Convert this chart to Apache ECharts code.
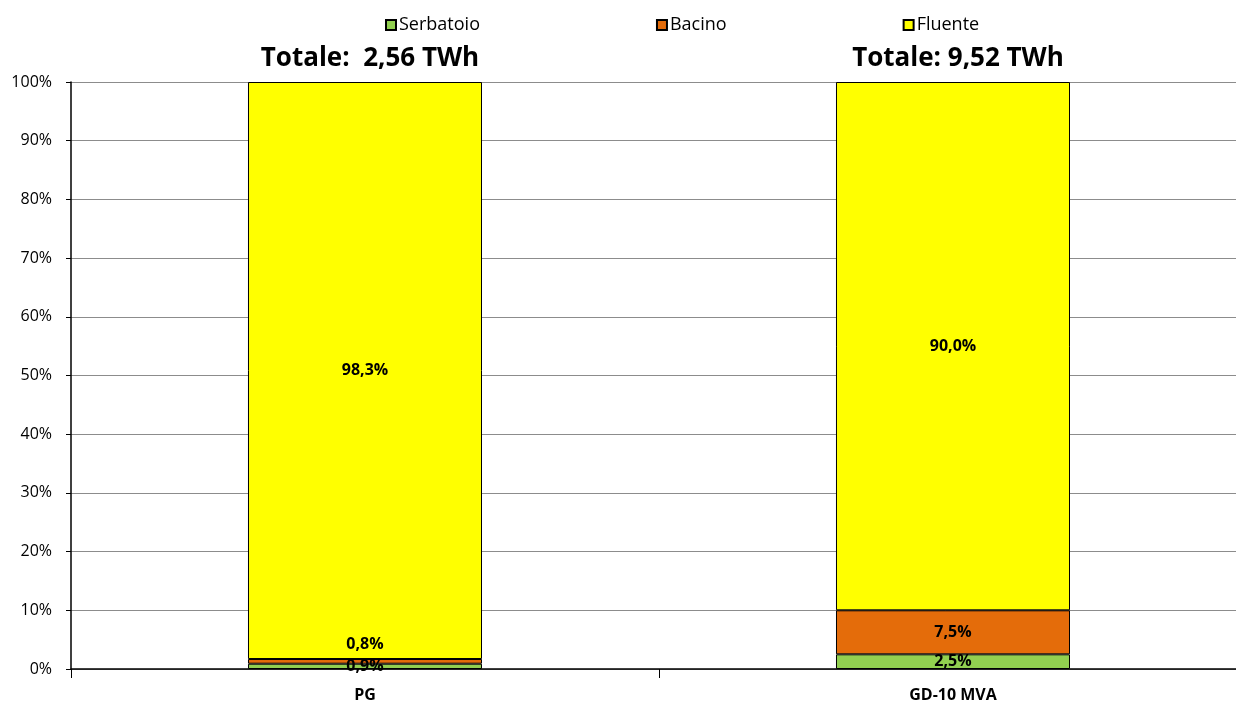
<!DOCTYPE html>
<html>
<head>
<meta charset="utf-8">
<script src="https://cdn.jsdelivr.net/npm/echarts@6/dist/echarts.min.js"></script>
<style>
html, body { margin: 0; padding: 0; background: #fff; }
#main { width: 1236px; height: 705px; }
</style>
</head>
<body>
<div id="main"></div>
<script>
// dati
var categorie = ['PG', 'GD-10 MVA'];
var totali = ['2,56', '9,52'];          // TWh
var serbatoio = [0.9, 2.5];
var bacino = [0.8, 7.5];
var fluente = [98.3, 90.0];
var tickY = [0, 10, 20, 30, 40, 50, 60, 70, 80, 90, 100];

var font = '"Open Sans", Lato, sans-serif';

function etichetta(p) {
	return p.value.toFixed(1).replace('.', ',') + '%';
}

var labelBase = {
	show : true,
	position : 'inside',
	color : '#000',
	fontFamily : font,
	fontWeight : 'bold',
	fontSize : 16,
	formatter : etichetta
};

var chart = echarts.init(document.getElementById('main'));

option = {
	backgroundColor : '#fff',
	animation : false,
	title : [ {
		text : 'Totale:  ' + totali[0] + ' TWh',
		left : 365,
		top : 41,
		textAlign : 'center',
		textStyle : { fontFamily : font, fontWeight : 'bold', fontSize : 26, color : '#000' }
	}, {
		text : 'Totale: ' + totali[1] + ' TWh',
		left : 953,
		top : 41,
		textAlign : 'center',
		textStyle : { fontFamily : font, fontWeight : 'bold', fontSize : 26, color : '#000' }
	} ],
	legend : {
		top : 11,
		left : 380,
		itemWidth : 10,
		itemHeight : 10,
		itemGap : 176,
		icon : 'rect',
		textStyle : { fontFamily : font, fontSize : 18, color : '#000', padding : [0, 0, 0, -2] },
		data : [ 'Serbatoio', 'Bacino', 'Fluente' ]
	},
	grid : {
		top : 82,
		bottom : 36,
		left : 71,
		right : -11,
		outerBoundsMode : 'none',
		containLabel : false
	},
	xAxis : {
		type : 'category',
		data : categorie,
		axisLine : { lineStyle : { color : '#000', width : 1.5 } },
		axisTick : { show : true, interval : 0, length : 9, lineStyle : { color : '#000' } },
		axisLabel : { color : '#000', fontFamily : font, fontWeight : 'bold', fontSize : 16, margin : 18 }
	},
	yAxis : {
		type : 'value',
		min : 0,
		max : 100,
		interval : 10,
		axisLine : { show : true, lineStyle : { color : '#000', width : 1.5 } },
		axisTick : { show : true, length : 5, lineStyle : { color : '#000' } },
		splitLine : { lineStyle : { color : '#8c8c8c', width : 1 } },
		axisLabel : {
			color : '#000',
			fontFamily : font,
			fontSize : 16,
			margin : 19,
			formatter : function(v) { return tickY.indexOf(v) >= 0 ? v + '%' : ''; }
		}
	},
	series : [ {
		name : 'Serbatoio',
		type : 'bar',
		stack : 'tot',
		barWidth : '39.8%',
		data : serbatoio,
		itemStyle : { color : '#92D050', borderColor : '#000', borderWidth : 1 },
		label : labelBase
	}, {
		name : 'Bacino',
		type : 'bar',
		stack : 'tot',
		data : [ { value : bacino[0], label : { offset : [0, -17] } }, bacino[1] ],
		itemStyle : { color : '#E46C0A', borderColor : '#000', borderWidth : 1 },
		label : labelBase
	}, {
		name : 'Fluente',
		type : 'bar',
		stack : 'tot',
		data : fluente,
		itemStyle : { color : '#FFFF00', borderColor : '#000', borderWidth : 1 },
		label : labelBase
	} ]
};

chart.setOption(option);
</script>
</body>
</html>
